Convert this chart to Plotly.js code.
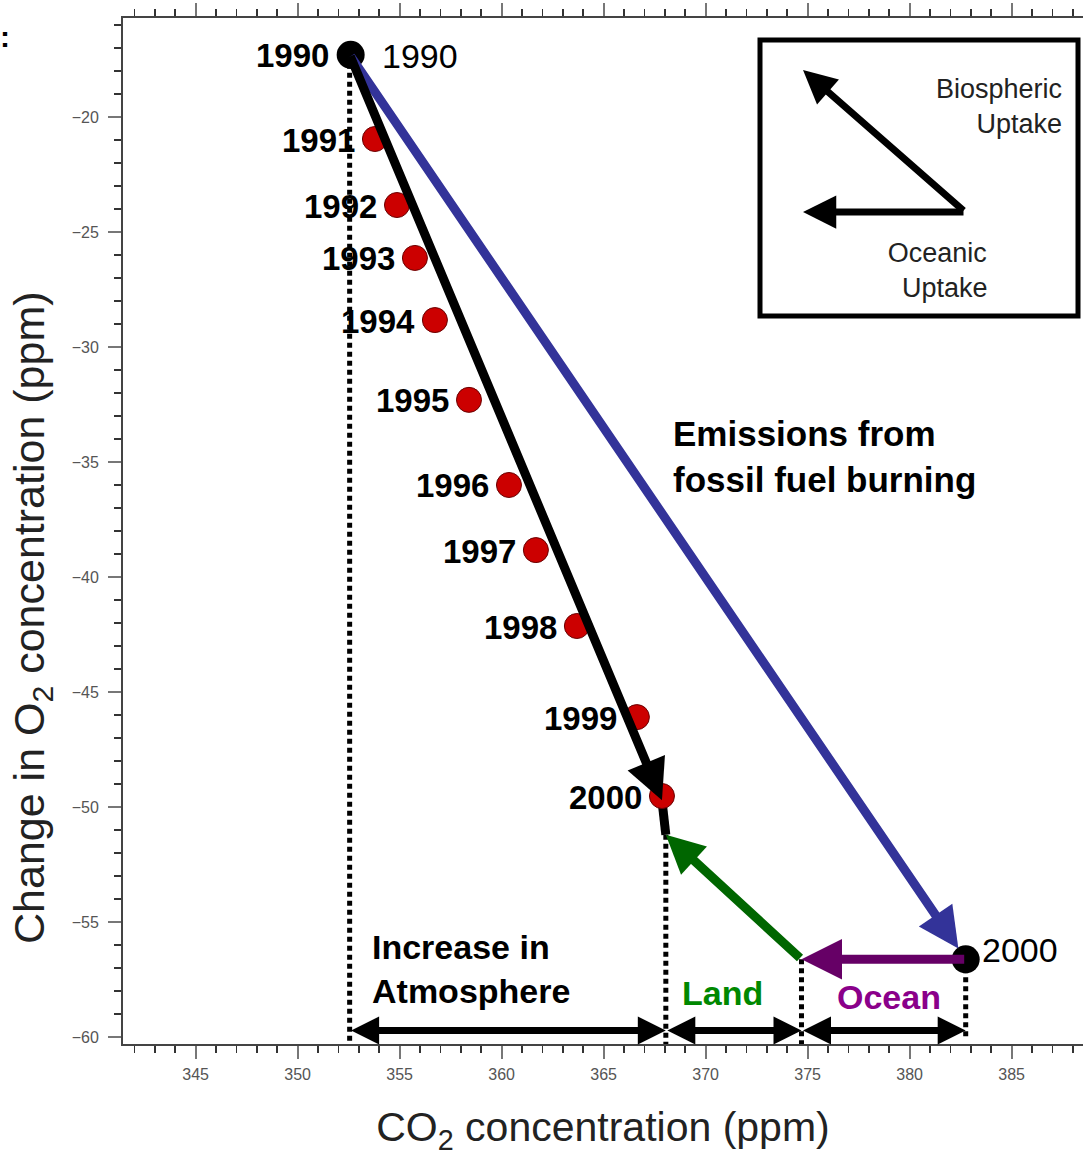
<!DOCTYPE html>
<html>
<head>
<meta charset="utf-8">
<script src="https://cdn.plot.ly/plotly-3.0.1.min.js"></script>
<style>
  html, body { margin: 0; padding: 0; background: #fff; }
  #chart { width: 1083px; height: 1156px; }
</style>
</head>
<body>
<div id="chart"></div>
<script>
// ---------- data ----------
const years = [1990, 1991, 1992, 1993, 1994, 1995, 1996, 1997, 1998, 1999, 2000];
const co2Obs = [352.6, 353.79, 354.87, 355.75, 356.73, 358.40, 360.36, 361.68, 363.69, 366.63, 367.86];
const o2Obs = [-17.3, -20.96, -23.83, -26.13, -28.83, -32.30, -36.0, -38.83, -42.13, -46.09, -49.52];

// budget construction (CO2 ppm, O2 change ppm)
const startPoint = [352.55, -17.3];        // 1990
const fossilEnd = [382.75, -56.62];        // 2000 with fossil emissions only
const atmArrowTip = [367.86, -49.7];       // tip of the black arrow
const landTip = [368.05, -51.2];           // tip of the land-uptake arrow
const oceanTip = [374.7, -56.62];          // tip of the ocean-uptake arrow
const budgetX = [352.55, 368.05, 374.7, 382.75];  // boundaries of the bottom brackets
const budgetTopY = [-17.3, -51.2, -56.62, -56.62]; // top of each dotted guide
const budgetBottomY = [-60.3, -60.3, -60.3, -60.0];
const bracketY = -59.71;
const budgetLabels = ['Increase in<br>Atmosphere', 'Land', 'Ocean'];

const xTickVals = [345, 350, 355, 360, 365, 370, 375, 380, 385];
const yTickVals = [-60, -55, -50, -45, -40, -35, -30, -25, -20];

// ---------- traces ----------
const dotX = [], dotY = [];
budgetX.forEach((x, i) => { dotX.push(x, x, null); dotY.push(budgetTopY[i], budgetBottomY[i], null); });

const traces = [
  { type: 'scatter', mode: 'lines', x: dotX, y: dotY, hoverinfo: 'skip',
    line: { color: '#000', width: 5, dash: '5px,4px' }, showlegend: false },
  { type: 'scatter', mode: 'lines', x: [atmArrowTip[0], landTip[0]], y: [atmArrowTip[1], landTip[1]],
    line: { color: '#000', width: 9 }, showlegend: false, hoverinfo: 'skip' },
  { type: 'scatter', mode: 'markers', x: co2Obs.slice(1), y: o2Obs.slice(1),
    marker: { size: 25, color: '#cc0000', line: { color: '#6a0000', width: 1 } }, showlegend: false },
  { type: 'scatter', mode: 'markers', x: [co2Obs[0], fossilEnd[0]], y: [o2Obs[0], fossilEnd[1]],
    marker: { size: 28, color: '#000' }, showlegend: false }
];

// ---------- annotations ----------
const F = 'Liberation Sans, Arial, sans-serif';
const ann = [];
function arrow(tail, tip, color, width, size, extra) {
  ann.push(Object.assign({
    x: tip[0], y: tip[1], ax: tail[0], ay: tail[1], xref: 'x', yref: 'y', axref: 'x', ayref: 'y',
    text: '', showarrow: true, arrowhead: 2, arrowsize: size, arrowwidth: width, arrowcolor: color,
    standoff: 0, startstandoff: 0
  }, extra || {}));
}
// emissions (blue), atmosphere (black), land (green), ocean (purple)
arrow(startPoint, fossilEnd, '#333399', 9, 0.9, { standoff: 13 });
arrow(startPoint, atmArrowTip, '#000000', 9, 0.9);
arrow(oceanTip, landTip, '#006600', 9, 0.85);
arrow(fossilEnd, oceanTip, '#660066', 9, 0.9);
// bottom double-headed brackets
for (let i = 0; i < budgetX.length - 1; i++) {
  arrow([budgetX[i], bracketY], [budgetX[i + 1], bracketY], '#000000', 7, 0.8,
        { arrowside: 'end+start', startarrowhead: 2, startarrowsize: 0.8 });
}
// year labels
years.forEach((yr, i) => {
  ann.push({ x: co2Obs[i], y: o2Obs[i], xref: 'x', yref: 'y', text: String(yr), showarrow: false,
    xanchor: 'right', yanchor: 'middle', xshift: i === 0 ? -20 : -18, yshift: -1,
    font: { family: F, size: 33, color: '#000', weight: 'bold' } });
});
ann.push({ x: co2Obs[0], y: o2Obs[0], xref: 'x', yref: 'y', text: '1990', showarrow: false,
  xanchor: 'left', yanchor: 'middle', xshift: 29, yshift: -1, font: { family: F, size: 34, color: '#000' } });
ann.push({ x: fossilEnd[0], y: fossilEnd[1], xref: 'x', yref: 'y', text: '2000', showarrow: false,
  xanchor: 'left', yanchor: 'middle', xshift: 14, yshift: 9, font: { family: F, size: 34, color: '#000' } });
// text labels
const boldFont = (c) => ({ family: F, size: 34, color: c, weight: 'bold' });
ann.push({ x: 368.3, y: -34.77, xref: 'x', yref: 'y', text: 'Emissions from<br>fossil fuel burning',
  showarrow: false, xanchor: 'left', yanchor: 'middle', align: 'left',
  font: { family: F, size: 35, color: '#000', weight: 'bold' } });
ann.push({ x: budgetX[0], y: -57.05, xref: 'x', yref: 'y', text: budgetLabels[0], xshift: 20,
  showarrow: false, xanchor: 'left', yanchor: 'middle', align: 'left', font: boldFont('#000') });
ann.push({ x: (budgetX[1] + budgetX[2]) / 2, y: -58.07, xref: 'x', yref: 'y', text: budgetLabels[1],
  showarrow: false, xanchor: 'center', yanchor: 'middle', xshift: -11, font: boldFont('#008800') });
ann.push({ x: (budgetX[2] + budgetX[3]) / 2, y: -58.24, xref: 'x', yref: 'y', text: budgetLabels[2],
  showarrow: false, xanchor: 'center', yanchor: 'middle', xshift: 5, font: boldFont('#8a008a') });

// axis title (y) & corner fragment
const pxX = p => (p - 123) / 960, pxY = p => (1044 - p) / 1026;
ann.push({ x: pxX(32), y: pxY(618), xref: 'paper', yref: 'paper', xanchor: 'center', yanchor: 'middle',
  text: 'Change in O<sub>2</sub> concentration (ppm)',
  textangle: -90, showarrow: false, font: { family: F, size: 43, color: '#222' } });
ann.push({ x: pxX(12), y: pxY(36), xref: 'paper', yref: 'paper', text: 't:', xanchor: 'right', yanchor: 'middle',
  showarrow: false, font: { family: F, size: 30, color: '#000', weight: 'bold' } });

// key box
ann.push({ x: pxX(803), y: pxY(70), xref: 'paper', yref: 'paper', ax: 162, ay: 142, text: '',
  showarrow: true, arrowhead: 2, arrowsize: 0.95, arrowwidth: 7, arrowcolor: '#000', standoff: 0 });
ann.push({ x: pxX(803), y: pxY(212), xref: 'paper', yref: 'paper', ax: 162, ay: 0, text: '',
  showarrow: true, arrowhead: 2, arrowsize: 0.95, arrowwidth: 7, arrowcolor: '#000', standoff: 0 });
ann.push({ x: pxX(1064), y: pxY(106), xref: 'paper', yref: 'paper', text: 'Biospheric<br>Uptake',
  xanchor: 'right', yanchor: 'middle', align: 'right', showarrow: false, font: { family: F, size: 27, color: '#222' } });
ann.push({ x: pxX(937), y: pxY(270), xref: 'paper', yref: 'paper', text: 'Oceanic<br>&nbsp;&nbsp;Uptake',
  xanchor: 'center', yanchor: 'middle', align: 'center', showarrow: false, font: { family: F, size: 27, color: '#222' } });

const shapes = [
  { type: 'rect', xref: 'paper', yref: 'paper', x0: pxX(760), x1: pxX(1078), y0: pxY(316), y1: pxY(40),
    line: { color: '#000', width: 5 }, fillcolor: 'rgba(0,0,0,0)' }
];

const axisCommon = {
  showgrid: false, zeroline: false, showline: true, linecolor: '#444', linewidth: 2,
  ticks: 'outside', ticklen: 13, tickwidth: 2, tickcolor: '#777',
  tickfont: { family: F, size: 16, color: '#555' },
  minor: { dtick: 1, ticks: 'outside', ticklen: 7, tickwidth: 1.5, tickcolor: '#333' }
};

const layout = {
  width: 1083, height: 1156,
  margin: { l: 123, r: 0, t: 18, b: 112 },
  paper_bgcolor: '#fff', plot_bgcolor: '#fff',
  showlegend: false,
  xaxis: Object.assign({}, axisCommon, {
    range: [341.44, 388.5], tickvals: xTickVals, mirror: 'ticks', ticklabelstandoff: 2,
    title: { text: 'CO<sub>2</sub> concentration (ppm)', font: { family: F, size: 41, color: '#222' }, standoff: 33 }
  }),
  yaxis: Object.assign({}, axisCommon, {
    range: [-60.3, -15.7], tickvals: yTickVals, mirror: false, ticklabelstandoff: 6
  }),
  annotations: ann,
  shapes: shapes
};

Plotly.newPlot('chart', traces, layout, { displayModeBar: false, staticPlot: true });
</script>
</body>
</html>
